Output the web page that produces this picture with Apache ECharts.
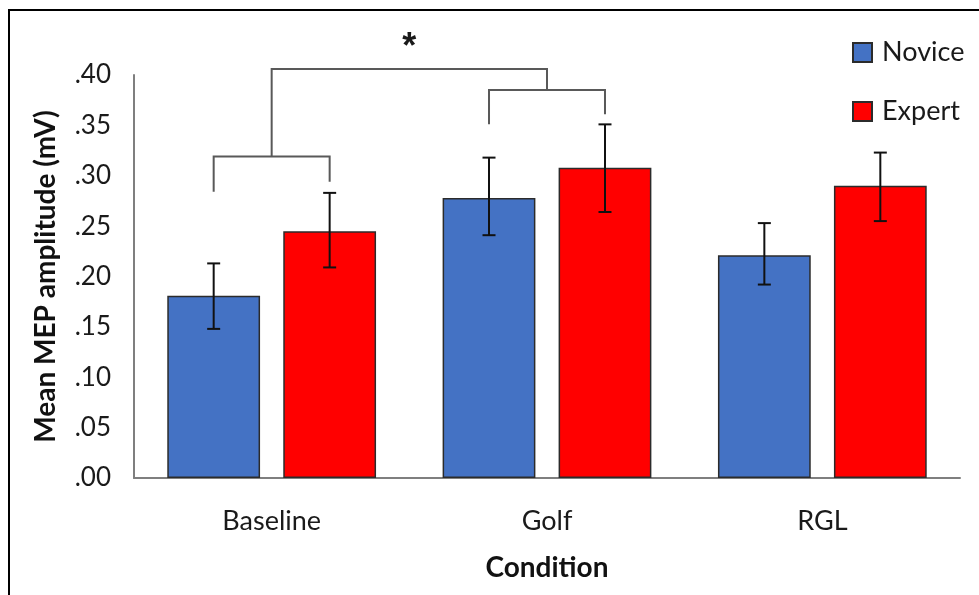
<!DOCTYPE html>
<html>
<head>
<meta charset="utf-8">
<script src="https://cdn.jsdelivr.net/npm/echarts@6/dist/echarts.min.js"></script>
<style>
  html, body { margin: 0; padding: 0; background: #fff; }
  #main { width: 979px; height: 595px; }
</style>
</head>
<body>
<div id="main"></div>
<script>
// data
var categories = ['Baseline', 'Golf', 'RGL'];
var novice = [0.181, 0.278, 0.221];
var expert = [0.245, 0.308, 0.290];
// [low, high] of error bars
var noviceErr = [[0.148, 0.213], [0.241, 0.318], [0.192, 0.253]];
var expertErr = [[0.209, 0.283], [0.264, 0.351], [0.255, 0.323]];
// category, left leg bottom, right leg bottom, bracket top
var brackets = [[0, 0.284, 0.294, 0.319], [1, 0.351, 0.361, 0.385]];
var topBracketY = 0.406;
var starY = 0.427;
var yTicks = [0, 0.05, 0.10, 0.15, 0.20, 0.25, 0.30, 0.35, 0.40];

var FONT = 'Lato';
var BAR_W = 0.337;   // share of the category band
var BAR_GAP = 0.25;  // share of bar width
var OFF = (BAR_W + BAR_W * BAR_GAP) / 2;

var myChart = echarts.init(document.getElementById('main'), null, {renderer: 'canvas'});

function errRender(side) {
    return function (params, api) {
        var band = api.size([1, 0])[0];
        var lo = api.coord([api.value(0), api.value(1)]);
        var hi = api.coord([api.value(0), api.value(2)]);
        var x = lo[0] + side * band * OFF;
        var cap = 6.5;
        var st = {stroke: '#111', lineWidth: 2};
        return {
            type: 'group',
            children: [
                {type: 'line', shape: {x1: x, y1: lo[1], x2: x, y2: hi[1]}, style: st},
                {type: 'line', shape: {x1: x - cap, y1: lo[1], x2: x + cap, y2: lo[1]}, style: st},
                {type: 'line', shape: {x1: x - cap, y1: hi[1], x2: x + cap, y2: hi[1]}, style: st}
            ]
        };
    };
}

function bracketRender(params, api) {
    var band = api.size([1, 0])[0];
    var c = api.value(0);
    var xl = api.coord([c, 0])[0] - band * OFF;
    var xr = api.coord([c, 0])[0] + band * OFF;
    var yl = api.coord([c, api.value(1)])[1];
    var yr = api.coord([c, api.value(2)])[1];
    var yt = api.coord([c, api.value(3)])[1];
    return {
        type: 'polyline',
        shape: {points: [[xl, yl], [xl, yt], [xr, yt], [xr, yr]]},
        style: {stroke: '#595959', lineWidth: 2, fill: null}
    };
}

function topRender(params, api) {
    var pts = brackets.map(function (b) {
        return [api.coord([b[0], b[3]])[0], api.coord([b[0], b[3]])[1]];
    });
    var yTop = api.coord([0, topBracketY])[1];
    var yStar = api.coord([0, starY])[1];
    var st = {stroke: '#595959', lineWidth: 2, fill: null};
    return {
        type: 'group',
        children: [
            {type: 'polyline', shape: {points: [[pts[0][0], pts[0][1]], [pts[0][0], yTop], [pts[1][0], yTop], [pts[1][0], pts[1][1]]]}, style: st},
            {type: 'text', x: (pts[0][0] + pts[1][0]) / 2, y: yStar,
                style: {text: '*', font: 'bold 36px "Liberation Sans"', fill: '#1a1a1a', align: 'center', verticalAlign: 'middle'}}
        ]
    };
}

var option = {
    animation: false,
    backgroundColor: '#fff',
    textStyle: {fontFamily: FONT},
    graphic: [{
        type: 'rect',
        shape: {x: 9, y: 10, width: 1100, height: 700},
        style: {fill: null, stroke: '#000', lineWidth: 2},
        silent: true
    }],
    legend: {
        data: ['Novice', 'Expert'],
        orient: 'vertical',
        left: 852,
        top: 39,
        padding: 0,
        itemWidth: 19,
        itemHeight: 19,
        itemGap: 32,
        icon: 'rect',
        textStyle: {fontSize: 27, color: '#1a1a1a', fontFamily: FONT, padding: [0, 0, 0, 5]}
    },
    grid: {left: 134, right: 19, top: 75, bottom: 117, containLabel: false},
    xAxis: {
        type: 'category',
        data: categories,
        name: 'Condition',
        nameLocation: 'middle',
        nameGap: 76,
        nameTextStyle: {fontSize: 28, fontWeight: 'bold', color: '#111', fontFamily: FONT},
        axisLine: {lineStyle: {color: '#7f7f7f', width: 2}},
        axisTick: {show: false},
        axisLabel: {fontSize: 27, color: '#1a1a1a', margin: 30, fontFamily: FONT}
    },
    yAxis: {
        type: 'value',
        min: 0,
        max: 0.4,
        interval: 0.05,
        name: 'Mean MEP amplitude (mV)',
        nameLocation: 'middle',
        nameGap: 74,
        nameTextStyle: {fontSize: 28, fontWeight: 'bold', color: '#111', fontFamily: FONT},
        splitLine: {show: false},
        axisLine: {show: true, lineStyle: {color: '#7f7f7f', width: 2}},
        axisTick: {show: false},
        axisLabel: {
            fontSize: 26, color: '#1a1a1a', margin: 23, fontFamily: FONT,
            formatter: function (v) {
                var i = yTicks.findIndex(function (t) { return Math.abs(t - v) < 1e-6; });
                return i < 0 ? '' : yTicks[i].toFixed(2).replace(/^0/, '');
            }
        }
    },
    series: [
        {
            name: 'Novice', type: 'bar', data: novice,
            barWidth: (BAR_W * 100) + '%', barGap: (BAR_GAP * 100) + '%',
            itemStyle: {color: '#4472C4', borderColor: '#2b2b2b', borderWidth: 1.5}
        },
        {
            name: 'Expert', type: 'bar', data: expert,
            barWidth: (BAR_W * 100) + '%', barGap: (BAR_GAP * 100) + '%',
            itemStyle: {color: '#FF0000', borderColor: '#2b2b2b', borderWidth: 1.5}
        },
        {
            type: 'custom', z: 5, renderItem: errRender(-1),
            data: noviceErr.map(function (e, i) { return [i, e[0], e[1]]; })
        },
        {
            type: 'custom', z: 5, renderItem: errRender(1),
            data: expertErr.map(function (e, i) { return [i, e[0], e[1]]; })
        },
        {
            type: 'custom', z: 5, renderItem: bracketRender,
            data: brackets
        },
        {
            type: 'custom', z: 5, renderItem: topRender,
            data: [[0, topBracketY]]
        }
    ]
};

myChart.setOption(option);
</script>
</body>
</html>
